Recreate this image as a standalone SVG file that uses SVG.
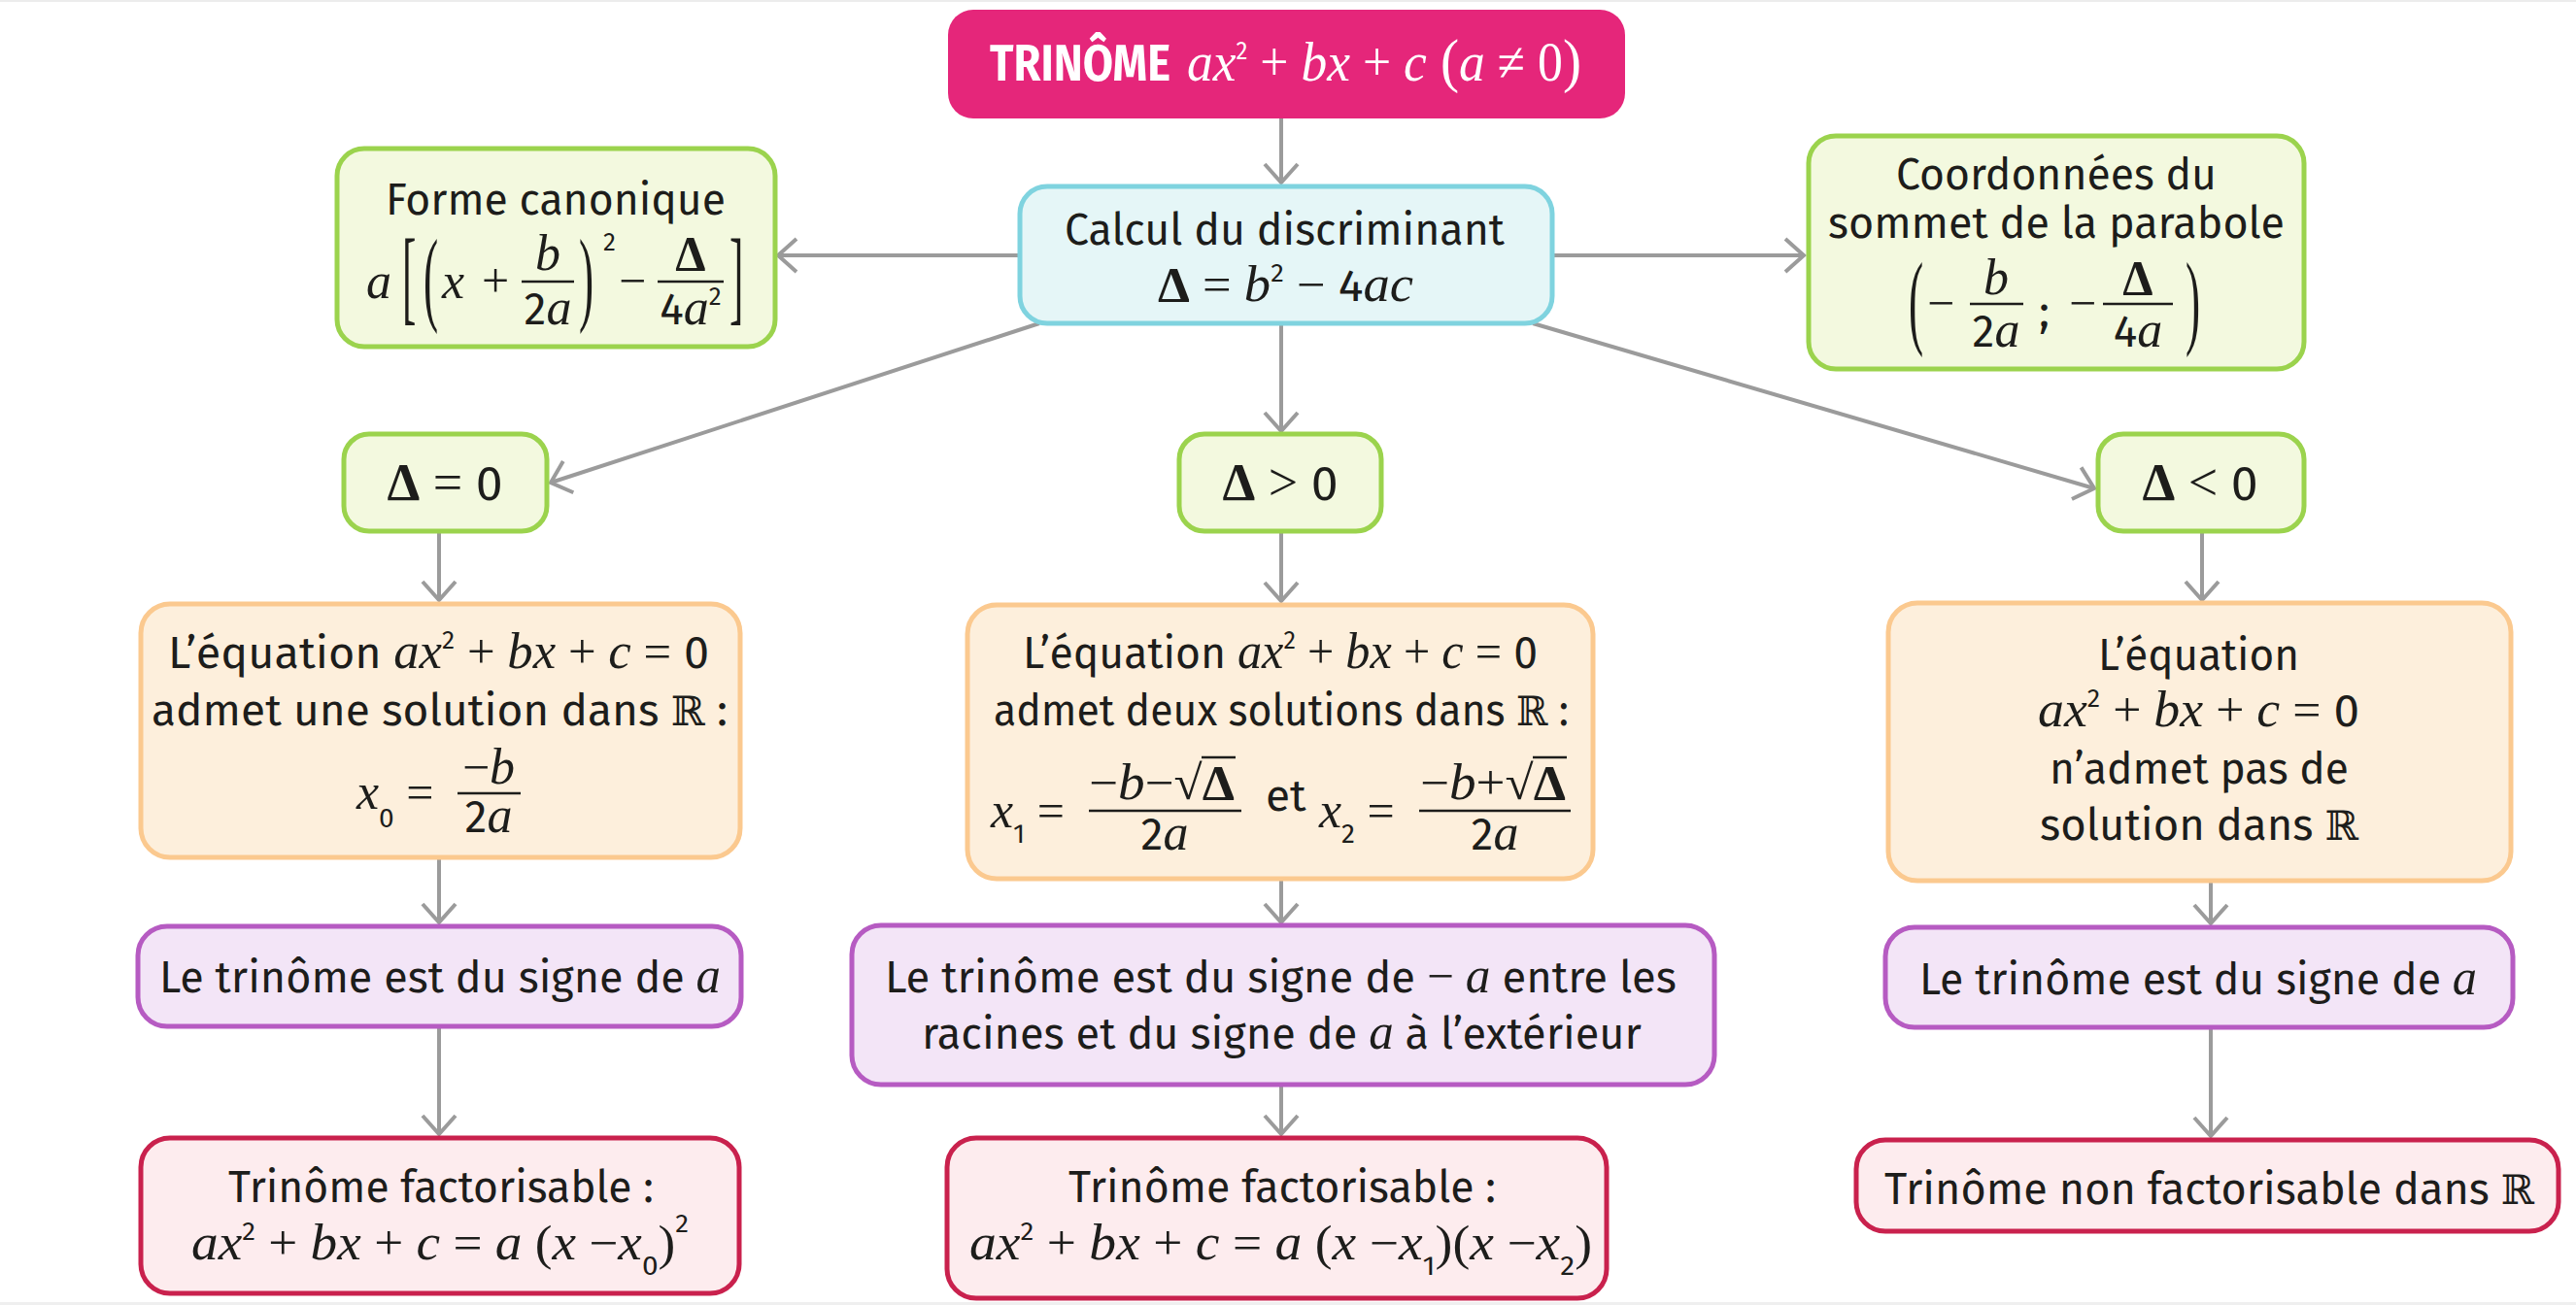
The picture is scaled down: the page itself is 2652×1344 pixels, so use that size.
<svg xmlns="http://www.w3.org/2000/svg" width="2652" height="1344" viewBox="0 0 2652 1344">
<style>
.t{font-family:"Fira Sans","Noto Sans","DejaVu Sans",sans-serif;font-size:46px;fill:#1d1d1b}
.m{font-family:"Liberation Serif","DejaVu Serif",serif;font-style:italic;font-size:52px}
.o{font-family:"Liberation Serif","DejaVu Serif",serif;font-style:normal;font-size:50px}
.D{font-family:"Liberation Serif","DejaVu Serif",serif;font-style:normal;font-weight:700;font-size:50px}
.bb{font-family:"DejaVu Serif","DejaVu Sans",serif;font-style:normal;font-size:42px}
.sup{font-size:26px}
.sub{font-family:"Fira Sans","Noto Sans","DejaVu Sans",sans-serif;font-style:normal;font-size:28px}
.big{font-family:"Liberation Serif","DejaVu Serif",serif;font-style:normal;font-size:108px}
.w{fill:#ffffff}
.box{stroke-width:5}
.pink{fill:#e5267a}
.cyan{fill:#e5f6f7;stroke:#7fd3df}
.green{fill:#f3f9df;stroke:#9bd34d}
.orange{fill:#fdefdc;stroke:#fbc98f}
.purple{fill:#f3e5f7;stroke:#b65bc2}
.red{fill:#fdecee;stroke:#c9214d}
.bar{stroke:#1d1d1b;stroke-width:2.5}
.c{fill:none;stroke:#9b9b9b;stroke-width:4}
</style>
<defs>
<marker id="arr" viewBox="-24 -22 28 44" refX="0" refY="0" markerWidth="28" markerHeight="44" markerUnits="userSpaceOnUse" orient="auto">
<path d="M-19,-17 L0,0 L-19,17" fill="none" stroke="#9b9b9b" stroke-width="4"/>
</marker>
</defs>
<rect x="0" y="0" width="2652" height="2" fill="#ececec"/>
<rect x="0" y="1341" width="2652" height="3" fill="#efefef"/>

<g id="connectors">
<line class="c" x1="1319" y1="122" x2="1319" y2="188" marker-end="url(#arr)"/>
<line class="c" x1="1050" y1="263" x2="801" y2="263" marker-end="url(#arr)"/>
<line class="c" x1="1598" y1="263" x2="1857" y2="263" marker-end="url(#arr)"/>
<line class="c" x1="1070" y1="333" x2="567" y2="497" marker-end="url(#arr)"/>
<line class="c" x1="1319" y1="333" x2="1319" y2="444" marker-end="url(#arr)"/>
<line class="c" x1="1578" y1="333" x2="2156" y2="503" marker-end="url(#arr)"/>
<line class="c" x1="452" y1="547" x2="452" y2="618" marker-end="url(#arr)"/>
<line class="c" x1="1319" y1="547" x2="1319" y2="619" marker-end="url(#arr)"/>
<line class="c" x1="2267" y1="547" x2="2267" y2="618" marker-end="url(#arr)"/>
<line class="c" x1="452" y1="883" x2="452" y2="950" marker-end="url(#arr)"/>
<line class="c" x1="1319" y1="905" x2="1319" y2="950" marker-end="url(#arr)"/>
<line class="c" x1="2276" y1="907" x2="2276" y2="951" marker-end="url(#arr)"/>
<line class="c" x1="452" y1="1057" x2="452" y2="1168" marker-end="url(#arr)"/>
<line class="c" x1="1319" y1="1117" x2="1319" y2="1168" marker-end="url(#arr)"/>
<line class="c" x1="2276" y1="1058" x2="2276" y2="1170" marker-end="url(#arr)"/>
</g>

<g id="n-trinome">
<rect class="pink" x="976" y="10" width="697" height="112" rx="26"/>
<text class="t w" x="1019" y="83" style="font-size:52px;font-weight:700" textLength="186" lengthAdjust="spacingAndGlyphs">TRINÔME</text>
<text class="t w" x="1222" y="83" textLength="406" lengthAdjust="spacingAndGlyphs"><tspan class="m" style="font-size:58px">ax</tspan><tspan class="sup" baseline-shift="22">2</tspan><tspan class="o" style="font-size:56px"> + </tspan><tspan class="m" style="font-size:58px">bx</tspan><tspan class="o" style="font-size:56px"> + </tspan><tspan class="m" style="font-size:58px">c</tspan><tspan class="o" style="font-size:62px"> (</tspan><tspan class="m" style="font-size:58px">a</tspan><tspan class="o" style="font-size:56px"> ≠ 0</tspan><tspan class="o" style="font-size:62px">)</tspan></text>
</g>

<g id="n-calcul">
<rect class="box cyan" x="1050" y="192" width="548" height="141" rx="28"/>
<text class="t" x="1096" y="252" textLength="453" lengthAdjust="spacingAndGlyphs">Calcul du discriminant</text>
<text class="t" x="1192" y="310" textLength="263" lengthAdjust="spacingAndGlyphs"><tspan class="D">Δ</tspan><tspan class="o"> = </tspan><tspan class="m">b</tspan><tspan class="sup" baseline-shift="20">2</tspan><tspan class="o"> − </tspan>4<tspan class="m">ac</tspan></text>
</g>

<g id="n-forme">
<rect class="box green" x="347" y="153" width="451" height="204" rx="28"/>
<text class="t" x="397" y="221" textLength="350" lengthAdjust="spacingAndGlyphs">Forme canonique</text>
<text class="t m" x="377" y="307">a</text>
<text class="t big" transform="matrix(0.4 0 0 1 414 321)">[</text>
<text class="t big" transform="matrix(0.42 0 0 1 436 321)">(</text>
<text class="t m" x="455" y="307">x</text>
<text class="t o" x="496" y="306">+</text>
<text class="t m" x="564" y="278" text-anchor="middle">b</text>
<line class="bar" x1="537" y1="290" x2="591" y2="290"/>
<text class="t" x="564" y="334" text-anchor="middle">2<tspan class="m">a</tspan></text>
<text class="t big" transform="matrix(0.42 0 0 1 596 321)">)</text>
<text class="t sup" x="621" y="258">2</text>
<text class="t o" x="637" y="306">−</text>
<text class="t D" x="711" y="278" text-anchor="middle">Δ</text>
<line class="bar" x1="677" y1="290" x2="745" y2="290"/>
<text class="t" x="711" y="334" text-anchor="middle">4<tspan class="m">a</tspan><tspan class="sup" baseline-shift="20">2</tspan></text>
<text class="t big" transform="matrix(0.4 0 0 1 751 321)">]</text>
</g>

<g id="n-sommet">
<rect class="box green" x="1862" y="140" width="510" height="240" rx="28"/>
<text class="t" x="1952" y="195" textLength="330" lengthAdjust="spacingAndGlyphs">Coordonnées du</text>
<text class="t" x="1882" y="245" textLength="470" lengthAdjust="spacingAndGlyphs">sommet de la parabole</text>
<text class="t big" transform="matrix(0.42 0 0 1 1965 345)">(</text>
<text class="t o" x="1984" y="329">−</text>
<text class="t m" x="2055" y="303" text-anchor="middle">b</text>
<line class="bar" x1="2028" y1="313" x2="2083" y2="313"/>
<text class="t" x="2055" y="357" text-anchor="middle">2<tspan class="m">a</tspan></text>
<text class="t" x="2099" y="336">;</text>
<text class="t o" x="2130" y="329">−</text>
<text class="t D" x="2201" y="303" text-anchor="middle">Δ</text>
<line class="bar" x1="2165" y1="313" x2="2237" y2="313"/>
<text class="t" x="2201" y="357" text-anchor="middle">4<tspan class="m">a</tspan></text>
<text class="t big" transform="matrix(0.42 0 0 1 2250 345)">)</text>
</g>

<g id="n-delta0">
<rect class="box green" x="354" y="447" width="209" height="100" rx="26"/>
<text class="t" x="458" y="515" text-anchor="middle" style="font-size:50px"><tspan class="D" style="font-size:54px">Δ</tspan><tspan class="o" style="font-size:54px"> = </tspan>0</text>
</g>
<g id="n-deltapos">
<rect class="box green" x="1214" y="447" width="208" height="100" rx="26"/>
<text class="t" x="1318" y="515" text-anchor="middle" style="font-size:50px"><tspan class="D" style="font-size:54px">Δ</tspan><tspan class="o" style="font-size:54px"> &gt; </tspan>0</text>
</g>
<g id="n-deltaneg">
<rect class="box green" x="2160" y="447" width="212" height="100" rx="26"/>
<text class="t" x="2265" y="515" text-anchor="middle" style="font-size:50px"><tspan class="D" style="font-size:54px">Δ</tspan><tspan class="o" style="font-size:54px"> &lt; </tspan>0</text>
</g>

<g id="n-eq1">
<rect class="box orange" x="145" y="622" width="617" height="261" rx="30"/>
<text class="t" x="173" y="688" textLength="557" lengthAdjust="spacingAndGlyphs">L’équation <tspan class="m">ax</tspan><tspan class="sup" baseline-shift="20">2</tspan><tspan class="o"> + </tspan><tspan class="m">bx</tspan><tspan class="o"> + </tspan><tspan class="m">c</tspan><tspan class="o"> = </tspan>0</text>
<text class="t" x="156" y="747" textLength="593" lengthAdjust="spacingAndGlyphs">admet une solution dans  <tspan class="bb">ℝ</tspan> :</text>
<text class="t" x="367" y="833"><tspan class="m">x</tspan><tspan class="sub" baseline-shift="-19">0</tspan><tspan class="o"> =</tspan></text>
<text class="t" x="503" y="807" text-anchor="middle"><tspan class="o">−</tspan><tspan class="m">b</tspan></text>
<line class="bar" x1="471" y1="817" x2="536" y2="817"/>
<text class="t" x="503" y="857" text-anchor="middle">2<tspan class="m">a</tspan></text>
</g>

<g id="n-eq2">
<rect class="box orange" x="996" y="623" width="644" height="282" rx="30"/>
<text class="t" x="1053" y="688" textLength="530" lengthAdjust="spacingAndGlyphs">L’équation <tspan class="m">ax</tspan><tspan class="sup" baseline-shift="20">2</tspan><tspan class="o"> + </tspan><tspan class="m">bx</tspan><tspan class="o"> + </tspan><tspan class="m">c</tspan><tspan class="o"> = </tspan>0</text>
<text class="t" x="1023" y="747" textLength="592" lengthAdjust="spacingAndGlyphs">admet deux solutions dans <tspan class="bb">ℝ</tspan> :</text>
<text class="t" x="1020" y="852"><tspan class="m">x</tspan><tspan class="sub" baseline-shift="-16">1</tspan><tspan class="o"> =</tspan></text>
<text class="t" x="1121" y="823" textLength="150" lengthAdjust="spacingAndGlyphs"><tspan class="o">−</tspan><tspan class="m">b</tspan><tspan class="o">−√</tspan><tspan class="D">Δ</tspan></text>
<line class="bar" x1="1237" y1="780" x2="1272" y2="780"/>
<line class="bar" x1="1121" y1="835" x2="1278" y2="835"/>
<text class="t" x="1199" y="875" text-anchor="middle">2<tspan class="m">a</tspan></text>
<text class="t" x="1303" y="835">et</text>
<text class="t" x="1358" y="852"><tspan class="m">x</tspan><tspan class="sub" baseline-shift="-16">2</tspan><tspan class="o"> =</tspan></text>
<text class="t" x="1462" y="823" textLength="150" lengthAdjust="spacingAndGlyphs"><tspan class="o">−</tspan><tspan class="m">b</tspan><tspan class="o">+√</tspan><tspan class="D">Δ</tspan></text>
<line class="bar" x1="1578" y1="780" x2="1613" y2="780"/>
<line class="bar" x1="1461" y1="835" x2="1617" y2="835"/>
<text class="t" x="1539" y="875" text-anchor="middle">2<tspan class="m">a</tspan></text>
</g>

<g id="n-eq3">
<rect class="box orange" x="1944" y="621" width="641" height="286" rx="30"/>
<text class="t" x="2160" y="690" textLength="207" lengthAdjust="spacingAndGlyphs">L’équation</text>
<text class="t" x="2098" y="748" textLength="331" lengthAdjust="spacingAndGlyphs"><tspan class="m">ax</tspan><tspan class="sup" baseline-shift="20">2</tspan><tspan class="o"> + </tspan><tspan class="m">bx</tspan><tspan class="o"> + </tspan><tspan class="m">c</tspan><tspan class="o"> = </tspan>0</text>
<text class="t" x="2110" y="807" textLength="308" lengthAdjust="spacingAndGlyphs">n’admet pas de</text>
<text class="t" x="2100" y="865" textLength="328" lengthAdjust="spacingAndGlyphs">solution dans <tspan class="bb">ℝ</tspan></text>
</g>

<g id="n-sign1">
<rect class="box purple" x="142" y="954" width="621" height="103" rx="30"/>
<text class="t" x="164" y="1022" textLength="578" lengthAdjust="spacingAndGlyphs">Le trinôme est du signe de <tspan class="m">a</tspan></text>
</g>
<g id="n-sign2">
<rect class="box purple" x="877" y="953" width="888" height="164" rx="30"/>
<text class="t" x="911" y="1022" textLength="815" lengthAdjust="spacingAndGlyphs">Le trinôme est du signe de <tspan class="o">−</tspan> <tspan class="m">a</tspan> entre les</text>
<text class="t" x="949" y="1080" textLength="741" lengthAdjust="spacingAndGlyphs">racines et du signe de <tspan class="m">a</tspan> à l’extérieur</text>
</g>
<g id="n-sign3">
<rect class="box purple" x="1941" y="955" width="646" height="103" rx="30"/>
<text class="t" x="1976" y="1024" textLength="574" lengthAdjust="spacingAndGlyphs">Le trinôme est du signe de <tspan class="m">a</tspan></text>
</g>

<g id="n-fact1">
<rect class="box red" x="145" y="1172" width="616" height="160" rx="30"/>
<text class="t" x="235" y="1238" textLength="438" lengthAdjust="spacingAndGlyphs">Trinôme factorisable :</text>
<text class="t" x="197" y="1297" textLength="512" lengthAdjust="spacingAndGlyphs"><tspan class="m">ax</tspan><tspan class="sup" baseline-shift="20">2</tspan><tspan class="o"> + </tspan><tspan class="m">bx</tspan><tspan class="o"> + </tspan><tspan class="m">c</tspan><tspan class="o"> = </tspan><tspan class="m">a</tspan><tspan class="o"> (</tspan><tspan class="m">x</tspan><tspan class="o"> −</tspan><tspan class="m">x</tspan><tspan class="sub" baseline-shift="-16">0</tspan><tspan class="o">)</tspan><tspan class="sup" baseline-shift="28">2</tspan></text>
</g>
<g id="n-fact2">
<rect class="box red" x="975" y="1172" width="679" height="165" rx="30"/>
<text class="t" x="1100" y="1238" textLength="440" lengthAdjust="spacingAndGlyphs">Trinôme factorisable :</text>
<text class="t" x="998" y="1297" textLength="641" lengthAdjust="spacingAndGlyphs"><tspan class="m">ax</tspan><tspan class="sup" baseline-shift="20">2</tspan><tspan class="o"> + </tspan><tspan class="m">bx</tspan><tspan class="o"> + </tspan><tspan class="m">c</tspan><tspan class="o"> = </tspan><tspan class="m">a</tspan><tspan class="o"> (</tspan><tspan class="m">x</tspan><tspan class="o"> −</tspan><tspan class="m">x</tspan><tspan class="sub" baseline-shift="-16">1</tspan><tspan class="o">)(</tspan><tspan class="m">x</tspan><tspan class="o"> −</tspan><tspan class="m">x</tspan><tspan class="sub" baseline-shift="-16">2</tspan><tspan class="o">)</tspan></text>
</g>
<g id="n-fact3">
<rect class="box red" x="1911" y="1174" width="723" height="94" rx="30"/>
<text class="t" x="1940" y="1240" textLength="669" lengthAdjust="spacingAndGlyphs">Trinôme non factorisable dans <tspan class="bb">ℝ</tspan></text>
</g>
</svg>
